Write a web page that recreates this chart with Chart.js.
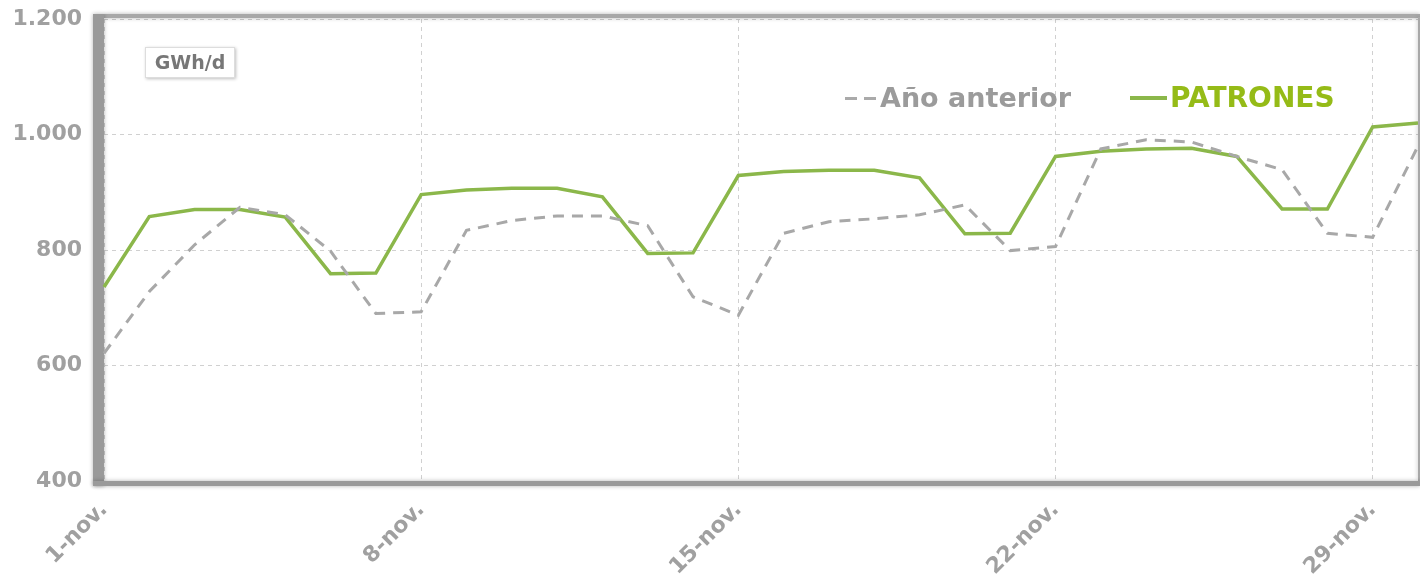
<!DOCTYPE html>
<html>
<head>
<meta charset="utf-8">
<script src="https://cdn.jsdelivr.net/npm/chart.js@4.4.1/dist/chart.umd.min.js"></script>
<style>
  html, body { margin: 0; padding: 0; background: #fff; }
  #wrap { position: relative; width: 1420px; height: 575px; font-family: 'DejaVu Sans', Verdana, sans-serif; }
  #unit {
    position: absolute; left: 145px; top: 47px; width: 88px; height: 29px;
    border: 1px solid #ddd; box-shadow: 1px 1px 3px rgba(0,0,0,0.25); background: #fff;
    color: #777; font-weight: bold; font-size: 19px; line-height: 29px; text-align: center;
  }
  .leg { position: absolute; top: 80px; font-weight: bold; font-size: 27px; line-height: 36px; white-space: nowrap; }
  #legPrev { left: 845px; color: #9b9b9b; }
  #legPat { left: 1130px; color: #95bb17; font-size: 28px; }
  .dash { display: inline-block; width: 12px; height: 3px; background: #aaa; vertical-align: middle; margin-right: 7px; position: relative; top: -1px; }
  .solid { display: inline-block; width: 37px; height: 4px; background: #8bb74a; vertical-align: middle; margin-right: 3px; position: relative; top: -1px; }
</style>
</head>
<body>
<div id="wrap">
  <canvas id="chart" width="1420" height="575"></canvas>
  <div id="unit">GWh/d</div>
  <div class="leg" id="legPrev"><span class="dash"></span><span class="dash" style="margin-right:4px"></span>Año anterior</div>
  <div class="leg" id="legPat"><span class="solid"></span>PATRONES</div>
</div>
<script>
// days of November
const DAYS = [
  '1-nov.', '2-nov.', '3-nov.', '4-nov.', '5-nov.', '6-nov.', '7-nov.',
  '8-nov.', '9-nov.', '10-nov.', '11-nov.', '12-nov.', '13-nov.', '14-nov.',
  '15-nov.', '16-nov.', '17-nov.', '18-nov.', '19-nov.', '20-nov.', '21-nov.',
  '22-nov.', '23-nov.', '24-nov.', '25-nov.', '26-nov.', '27-nov.', '28-nov.',
  '29-nov.', '30-nov.'
];

// GWh/d
const PATRONES = [
  736, 858, 870, 870, 857, 759, 760,
  896, 904, 907, 907, 892, 794, 795,
  929, 936, 938, 938, 925, 828, 829,
  962, 971, 975, 976, 962, 871, 871,
  1013, 1020
];

const ANIO_ANTERIOR = [
  621, 728, 809, 874, 861, 798, 690,
  693, 834, 851, 859, 859, 842, 719,
  687, 829, 849, 854, 861, 878, 799,
  806, 975, 991, 987, 962, 939, 829,
  822, 980
];

const Y_MIN = 400, Y_MAX = 1200, Y_STEP = 200;

const GREEN = '#8bb74a';
const GREY = '#a8a8a8';
const LABEL_GREY = '#a0a0a0';
const FONT = "'DejaVu Sans', Verdana, sans-serif";

function fmtThousands(v) {
  return String(v).replace(/\B(?=(\d{3})+(?!\d))/g, '.');
}

// thick grey frame round the plot
const framePlugin = {
  id: 'frame',
  beforeDatasetsDraw(chart) {
    const { ctx, chartArea: a } = chart;
    ctx.save();
    ctx.shadowColor = 'rgba(0,0,0,0.3)';
    ctx.shadowBlur = 4;
    ctx.fillStyle = '#a8a8a8';
    ctx.fillRect(a.left, a.top - 5, a.right - a.left + 2, 4);
    ctx.fillRect(a.right, a.top - 2, 2, a.bottom - a.top + 2);
    ctx.fillStyle = '#9a9a9a';
    ctx.fillRect(a.left - 11, a.top - 5, 11, a.bottom - a.top + 10);
    ctx.fillRect(a.left - 11, a.bottom, a.right - a.left + 13, 5);
    ctx.restore();
  }
};

new Chart(document.getElementById('chart').getContext('2d'), {
  type: 'line',
  data: {
    labels: DAYS,
    datasets: [
      {
        label: 'Año anterior',
        data: ANIO_ANTERIOR,
        borderColor: GREY,
        borderWidth: 3,
        borderDash: [11, 8],
        pointRadius: 0,
        tension: 0,
      },
      {
        label: 'PATRONES',
        data: PATRONES,
        borderColor: GREEN,
        borderWidth: 3.5,
        pointRadius: 0,
        tension: 0,
      },
    ],
  },
  options: {
    responsive: false,
    animation: false,
    events: [],
    layout: { padding: { top: 19, right: 2, bottom: 0, left: 0 } },
    plugins: {
      legend: { display: false },
      tooltip: { enabled: false },
    },
    scales: {
      x: {
        afterFit: (s) => { s.height = 94; s.paddingLeft = 0; s.paddingRight = 0; },
        border: { display: false, dash: [4, 4] },
        grid: { color: '#d0d0d0', drawTicks: false, lineWidth: 1 },
        ticks: {
          autoSkip: false,
          maxRotation: 45,
          minRotation: 45,
          padding: 16,
          color: LABEL_GREY,
          font: { family: FONT, size: 22, weight: 'bold' },
          callback: (v, i) => (i % 7 === 0 ? DAYS[i] : null),
        },
      },
      y: {
        min: Y_MIN,
        max: Y_MAX,
        afterFit: (s) => { s.width = 104; s.paddingTop = 0; s.paddingBottom = 0; },
        border: { display: false, dash: [4, 4] },
        grid: { color: '#d0d0d0', drawTicks: false, lineWidth: 1 },
        ticks: {
          stepSize: Y_STEP,
          padding: 22,
          color: LABEL_GREY,
          font: { family: FONT, size: 22, weight: 'bold' },
          callback: (v) => fmtThousands(v),
        },
      },
    },
  },
  plugins: [framePlugin],
});
</script>
</body>
</html>
